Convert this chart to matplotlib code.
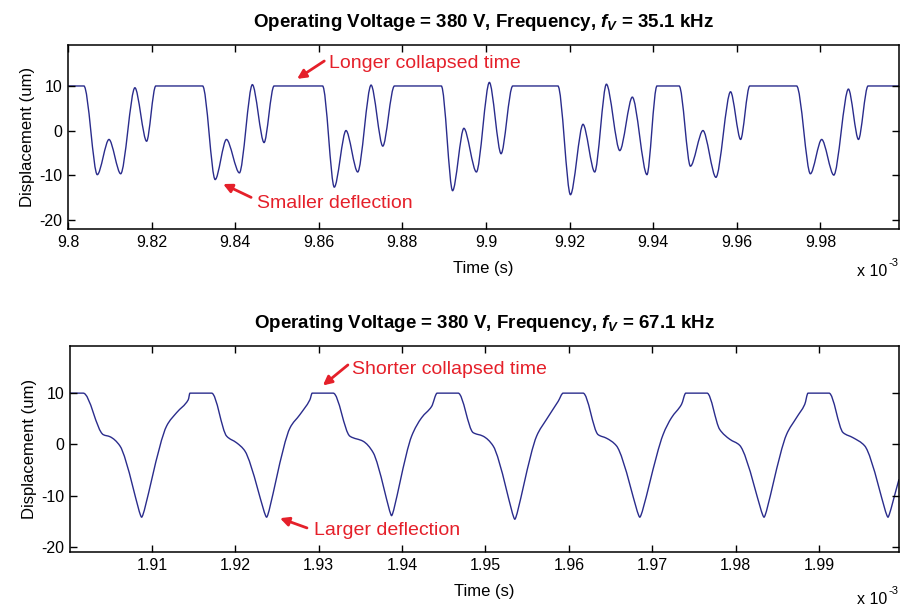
import matplotlib
matplotlib.use("Agg")
import matplotlib.pyplot as plt
from matplotlib.path import Path
from matplotlib.patches import PathPatch

plt.rcParams['font.family'] = ['Liberation Sans', 'DejaVu Sans']
plt.rcParams['axes.unicode_minus'] = False
plt.rcParams['mathtext.fontset'] = 'custom'
plt.rcParams['mathtext.it'] = 'Liberation Sans:italic:bold'
plt.rcParams['mathtext.rm'] = 'Liberation Sans:bold'

# time in units of 1e-3 s, displacement in um
t_35k = [9.8000, 9.8038, 9.8070, 9.8098, 9.8126, 9.8160, 9.8188, 9.8210,
         9.8322, 9.8352, 9.8379, 9.8410, 9.8441, 9.8469, 9.8493,
         9.8609, 9.8637, 9.8665, 9.8693, 9.8725, 9.8753, 9.8781,
         9.8893, 9.8920, 9.8947, 9.8977, 9.9008, 9.9036, 9.9064,
         9.9172, 9.9202, 9.9232, 9.9260, 9.9288, 9.9320, 9.9350, 9.9385, 9.9409,
         9.9462, 9.9489, 9.9519, 9.9550, 9.9585, 9.9609, 9.9631,
         9.9743, 9.9776, 9.9803, 9.9832, 9.9867, 9.9891, 9.9914, 9.9988]
d_35k = [10, 10, -9.9, -2.0, -9.7, 9.6, -2.4, 10,
         10, -11.0, -2.0, -9.5, 10.3, -2.7, 10,
         10, -12.7, 0.0, -9.3, 10.2, -3.5, 10,
         10, -13.5, 0.5, -9.3, 10.8, -5.2, 10,
         10, -14.4, 1.4, -9.3, 10.4, -4.5, 7.5, -9.9, 10,
         10, -8.0, 0.0, -10.5, 8.7, -2.0, 10,
         10, -9.7, -2.0, -10.0, 9.3, -2.0, 10, 10]

t_67k = [1.90017, 1.90176, 1.90416, 1.90496, 1.90616, 1.90876, 1.91176, 1.91296,
         1.91435, 1.91456, 1.91716, 1.91896, 1.92016, 1.92115, 1.92375, 1.92655,
         1.92774, 1.92894, 1.92922, 1.93174, 1.93374, 1.93534, 1.93653, 1.93874,
         1.94114, 1.94234, 1.94354, 1.94421, 1.94673, 1.94852, 1.94972, 1.95092,
         1.95352, 1.95613, 1.95733, 1.95872, 1.95932, 1.96171, 1.96351, 1.96452,
         1.96572, 1.96851, 1.97130, 1.97231, 1.97351, 1.97403, 1.97658, 1.97810,
         1.97930, 1.98050, 1.98341, 1.98610, 1.98730, 1.98829, 1.98869, 1.99121,
         1.99289, 1.99409, 1.99549, 1.99828, 1.99960]
d_67k = [10, 10, 1.9, 1.5, -0.3, -14.2, 3.6, 6.2,
         8.7, 10, 10, 1.6, 0.3, -1.3, -14.2, 3.2,
         5.8, 8.7, 10, 10, 1.6, 0.6, -1.6, -13.9,
         1.6, 5.2, 7.4, 10, 10, 2.3, 1.6, -0.3,
         -14.6, 1.6, 4.9, 8.4, 10, 10, 1.9, 1.2,
         -0.3, -14.2, 1.9, 5.2, 7.8, 10, 10, 2.9,
         1.0, -0.2, -14.2, 1.9, 5.2, 7.8, 10, 10,
         2.3, 1.3, -0.3, -14.2, -6.8]

ticks_35k = [9.8, 9.82, 9.84, 9.86, 9.88, 9.9, 9.92, 9.94, 9.96, 9.98]
ticks_67k = [1.91, 1.92, 1.93, 1.94, 1.95, 1.96, 1.97, 1.98, 1.99]
y_ticks = [-20, -10, 0, 10]

line_color = '#2a2c8c'
red = '#e5202a'


def smooth_trace(ax, x, y, tip=1 / 3, **kw):
    # cubic bezier through the samples, flat tangents at peaks/valleys;
    # `tip` sets how wide the rounding at a peak/valley is
    n = len(x)
    sec = [(y[i + 1] - y[i]) / (x[i + 1] - x[i]) for i in range(n - 1)]
    slope = [sec[0]] + [0.0] * (n - 2) + [sec[-1]]
    hand = [1 / 3] * n
    for i in range(1, n - 1):
        prod = sec[i - 1] * sec[i]
        if prod > 0:
            slope[i] = 2.0 / (1.0 / sec[i - 1] + 1.0 / sec[i])
        elif prod < 0:
            hand[i] = tip
    verts = [(x[0], y[0])]
    codes = [Path.MOVETO]
    for i in range(n - 1):
        dx = x[i + 1] - x[i]
        h0, h1 = hand[i] * dx, hand[i + 1] * dx
        verts += [(x[i] + h0, y[i] + slope[i] * h0),
                  (x[i + 1] - h1, y[i + 1] - slope[i + 1] * h1),
                  (x[i + 1], y[i + 1])]
        codes += [Path.CURVE4] * 3
    ax.add_patch(PathPatch(Path(verts, codes), facecolor='none', **kw))


def style_axes(ax, xticks, xlim, ylim, title):
    ax.set_xlim(*xlim)
    ax.set_ylim(*ylim)
    ax.set_xticks(xticks)
    ax.set_xticklabels(['%g' % v for v in xticks])
    ax.set_yticks(y_ticks)
    ax.tick_params(direction='in', top=True, right=True, length=5,
                   width=1, labelsize=11.5, pad=4)
    for s in ax.spines.values():
        s.set_linewidth(1.1)
    ax.set_xlabel('Time (s)', fontsize=12, labelpad=8)
    ax.set_ylabel('Displacement (um)', fontsize=12, labelpad=3)
    ax.set_title(title, fontsize=13.5, fontweight='bold', pad=13)


fig = plt.figure(figsize=(9.01, 6.07), dpi=100)
ax1 = fig.add_axes([0.0755, 0.6227, 0.9223, 0.3032])
ax2 = fig.add_axes([0.0777, 0.0906, 0.9201, 0.3394])

smooth_trace(ax1, t_35k, d_35k, tip=0.3, edgecolor=line_color, lw=1.0)
style_axes(ax1, ticks_35k, (9.8, 9.9988), (-22.1, 19.2),
           r'Operating Voltage = 380 V, Frequency, $f_V$ = 35.1 kHz')

smooth_trace(ax2, t_67k, d_67k, tip=0.12, edgecolor=line_color, lw=1.0)
style_axes(ax2, ticks_67k, (1.90017, 1.9996), (-21.0, 19.2),
           r'Operating Voltage = 380 V, Frequency, $f_V$ = 67.1 kHz')

# exponent labels under the right end of each time axis
for yb, ys in ((0.553, 0.567), (0.013, 0.027)):
    fig.text(0.985, yb, 'x 10', fontsize=11.5, ha='right', va='center')
    fig.text(0.986, ys, '-3', fontsize=8, ha='left', va='center')

arrow = dict(arrowstyle='-|>', color=red, lw=2, mutation_scale=13,
             shrinkA=0, shrinkB=0)

ax1.annotate('', xy=(9.8548, 11.6), xytext=(9.8613, 15.6), arrowprops=arrow)
ax1.text(9.8625, 15.0, 'Longer collapsed time', color=red, fontsize=14,
         va='center', ha='left')
ax1.annotate('', xy=(9.8371, -12.0), xytext=(9.8438, -15.0), arrowprops=arrow)
ax1.text(9.8453, -16.3, 'Smaller deflection', color=red, fontsize=14,
         va='center', ha='left')

ax2.annotate('', xy=(1.9305, 11.5), xytext=(1.9335, 15.5), arrowprops=arrow)
ax2.text(1.93398, 14.6, 'Shorter collapsed time', color=red, fontsize=14,
         va='center', ha='left')
ax2.annotate('', xy=(1.92535, -14.4), xytext=(1.92859, -16.3), arrowprops=arrow)
ax2.text(1.92943, -16.9, 'Larger deflection', color=red, fontsize=14,
         va='center', ha='left')

fig.savefig('out.png', dpi=100)
